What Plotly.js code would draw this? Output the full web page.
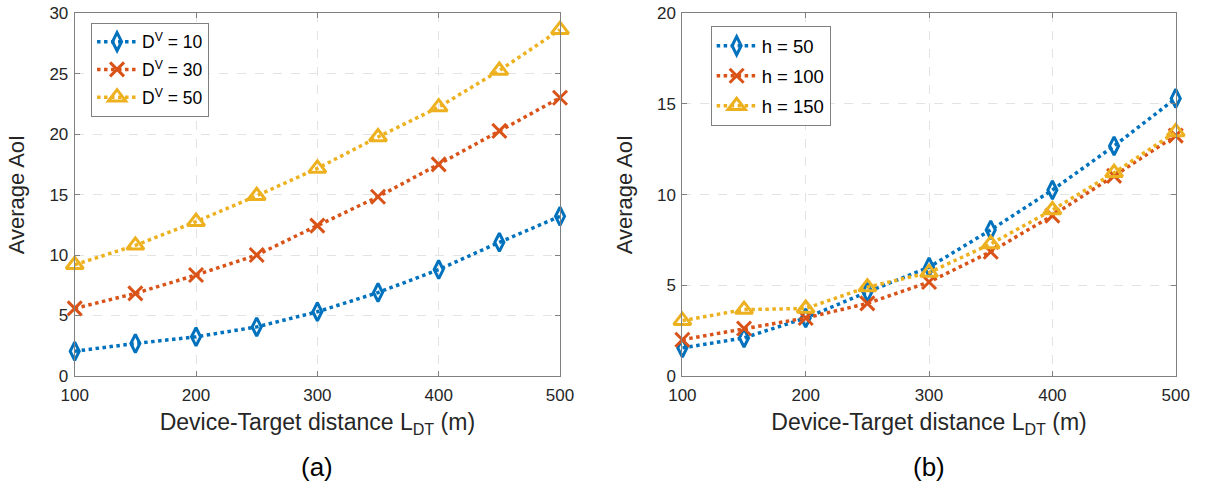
<!DOCTYPE html>
<html>
<head>
<meta charset="utf-8">
<script src="https://cdn.plot.ly/plotly-3.0.1.min.js"></script>
<style>html,body{margin:0;padding:0;background:#fff;}#chart{width:1209px;height:485px;}</style>
</head>
<body>
<div id="chart"></div>
<script>
// Data
const distance = [100, 150, 200, 250, 300, 350, 400, 450, 500];
const aoiDV10 = [2.05, 2.69, 3.24, 4.06, 5.31, 6.9, 8.8, 11.05, 13.2];
const aoiDV30 = [5.59, 6.83, 8.35, 10.0, 12.43, 14.82, 17.5, 20.26, 23.0];
const aoiDV50 = [9.2, 10.8, 12.76, 14.9, 17.16, 19.76, 22.23, 25.25, 28.63];
const aoiH50 = [1.55, 2.1, 3.2, 4.63, 6.0, 8.05, 10.25, 12.68, 15.3];
const aoiH100 = [2.0, 2.62, 3.2, 4.0, 5.18, 6.85, 8.84, 11.03, 13.25];
const aoiH150 = [3.05, 3.66, 3.72, 4.9, 5.7, 7.28, 9.15, 11.2, 13.45];
const namesA = ['D<sup>V</sup> = 10', 'D<sup>V</sup> = 30', 'D<sup>V</sup> = 50'];
const namesB = ['h = 50', 'h = 100', 'h = 150'];
const xTicks = [100, 200, 300, 400, 500];

const colors = ['#0072BD', '#D95319', '#EDB120'];
const symbols = ['diamond-tall-open', 'x-thin-open', 'triangle-up-open'];
const sizes = [13, 14, 15];

function mk(y, i, name, xa, ya, leg, grp) {
  return {
    x: distance, y: y, name: name, xaxis: xa, yaxis: ya, legend: leg, legendgroup: grp,
    mode: 'lines+markers', type: 'scatter', cliponaxis: false,
    line: {color: colors[i], width: 3.5, dash: 'dot'},
    marker: {symbol: symbols[i], size: sizes[i], color: colors[i],
             line: {color: colors[i], width: 3}}
  };
}

const traces = [
  mk(aoiDV10, 0, namesA[0], 'x', 'y', 'legend', 'a1'),
  mk(aoiDV30, 1, namesA[1], 'x', 'y', 'legend', 'a2'),
  mk(aoiDV50, 2, namesA[2], 'x', 'y', 'legend', 'a3'),
  mk(aoiH50, 0, namesB[0], 'x2', 'y2', 'legend2', 'b1'),
  mk(aoiH100, 1, namesB[1], 'x2', 'y2', 'legend2', 'b2'),
  mk(aoiH150, 2, namesB[2], 'x2', 'y2', 'legend2', 'b3')
];

const font = 'Liberation Sans, Arial, sans-serif';
const tickFont = {family: font, size: 17, color: '#262626'};
const xTitleFont = {family: font, size: 23, color: '#262626'};
const yTitleFont = {family: font, size: 22, color: '#262626'};

function xax(domain, anchor) {
  return {
    domain: domain, anchor: anchor, range: [100, 500],
    tickvals: xTicks, ticktext: xTicks.map(String),
    ticks: 'inside', ticklen: 5, tickcolor: '#808080', ticklabelstandoff: 4,
    showline: true, linecolor: '#808080', linewidth: 1, mirror: 'ticks',
    showgrid: true, gridcolor: '#e3e3e3', griddash: 'dash', gridwidth: 1,
    zeroline: false, tickfont: tickFont,
    title: {text: 'Device-Target distance L<sub>DT</sub> (m)', font: xTitleFont, standoff: 9}
  };
}
function yax(domain, anchor, maxv) {
  return {
    domain: domain, anchor: anchor, range: [0, maxv], dtick: 5,
    ticks: 'inside', ticklen: 5, tickcolor: '#808080', ticklabelstandoff: 2,
    showline: true, linecolor: '#808080', linewidth: 1, mirror: 'ticks',
    showgrid: true, gridcolor: '#e3e3e3', griddash: 'dash', gridwidth: 1,
    zeroline: false, tickfont: tickFont,
    title: {text: 'Average AoI', font: yTitleFont, standoff: 18}
  };
}

const yDom = [0.2247, 0.973];
const legendCommon = {
  bgcolor: '#ffffff', bordercolor: '#808080', borderwidth: 1,
  xanchor: 'left', yanchor: 'top', itemwidth: 40
};

const layout = {
  width: 1209, height: 485,
  margin: {l: 0, r: 0, t: 0, b: 0},
  paper_bgcolor: '#ffffff', plot_bgcolor: '#ffffff',
  showlegend: true,
  xaxis: xax([0.0618, 0.4632], 'y'),
  yaxis: yax(yDom, 'x', 30),
  xaxis2: xax([0.5644, 0.9725], 'y2'),
  yaxis2: yax(yDom, 'x2', 20),
  legend: Object.assign({}, legendCommon, {x: 0.0753, y: 0.953, tracegroupgap: 2,
    font: {family: font, size: 17.5, color: '#000000'}}),
  legend2: Object.assign({}, legendCommon, {x: 0.5878, y: 0.946, tracegroupgap: 3,
    font: {family: font, size: 18.5, color: '#000000'}}),
  annotations: [
    {text: '(a)', x: 0.2625, y: 0.037, xref: 'paper', yref: 'paper', showarrow: false,
     font: {family: font, size: 26, color: '#000000'}, xanchor: 'center', yanchor: 'middle'},
    {text: '(b)', x: 0.7685, y: 0.037, xref: 'paper', yref: 'paper', showarrow: false,
     font: {family: font, size: 26, color: '#000000'}, xanchor: 'center', yanchor: 'middle'}
  ]
};

Plotly.newPlot('chart', traces, layout, {staticPlot: true, displayModeBar: false});
</script>
</body>
</html>
